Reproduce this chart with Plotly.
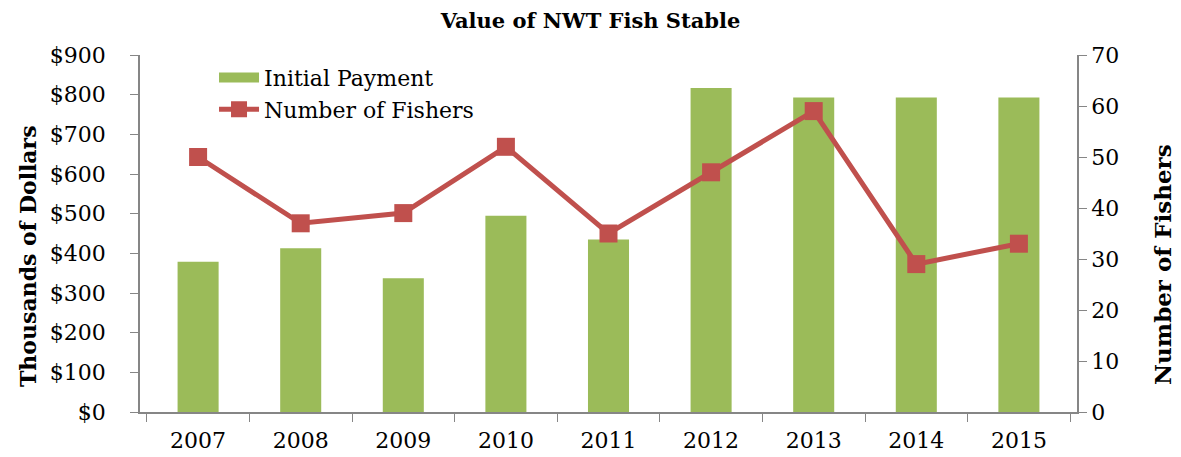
import plotly.graph_objects as go

years = ["2007", "2008", "2009", "2010", "2011", "2012", "2013", "2014", "2015"]
initial_payment = [379, 413, 337, 495, 435, 817, 793, 793, 793]
num_fishers = [50, 37, 39, 52, 35, 47, 59, 29, 33]
left_ticks = [0, 100, 200, 300, 400, 500, 600, 700, 800, 900]
left_labels = ["$" + str(v) for v in left_ticks]
right_ticks = [0, 10, 20, 30, 40, 50, 60, 70]

FONT = "DejaVu Serif"
AXC = "#868686"
GREEN = "#9BBB59"
RED = "#C0504D"

fig = go.Figure()
fig.add_trace(go.Bar(x=years, y=initial_payment, name="Initial Payment",
                     marker=dict(color=GREEN, line=dict(width=0)), showlegend=False))
fig.add_trace(go.Scatter(x=[None], y=[None], name="Initial Payment", mode="lines",
                         line=dict(color=GREEN, width=15), showlegend=True))
fig.add_trace(go.Scatter(x=years, y=num_fishers, name="Number of Fishers", yaxis="y2",
                         mode="lines+markers",
                         line=dict(color=RED, width=5),
                         marker=dict(symbol="square", size=18, color=RED)))

fig.update_layout(
    width=1181, height=457,
    margin=dict(l=140, r=104, t=55, b=45, autoexpand=False),
    paper_bgcolor="white", plot_bgcolor="white",
    font=dict(family=FONT, size=22, color="black"),
    title=dict(text="<b>Value of NWT Fish Stable</b>", x=0.5, xanchor="center",
               y=0.955, yanchor="middle", font=dict(size=21, family=FONT)),
    bargap=0.6,
    showlegend=True,
    legend=dict(x=0.079, y=0.995, xanchor="left", yanchor="top",
                bgcolor="rgba(0,0,0,0)", font=dict(size=22), tracegroupgap=0,
                itemwidth=40),
    xaxis=dict(showline=True, linecolor=AXC, linewidth=1.5, ticks="outside",
               ticklen=8, tickcolor=AXC, showgrid=False, tickson="boundaries",
               tickfont=dict(size=22), ticklabelstandoff=8, automargin=False),
    yaxis=dict(range=[0, 900], tickvals=left_ticks, ticktext=left_labels,
               showline=True, linecolor=AXC, linewidth=1.5, ticks="outside",
               ticklen=8, tickcolor=AXC, showgrid=False, zeroline=False,
               tickfont=dict(size=22), ticklabelstandoff=20, automargin=False),
    yaxis2=dict(range=[0, 70], tickvals=right_ticks, overlaying="y", side="right",
                showline=True, linecolor=AXC, linewidth=1.5, ticks="outside",
                ticklen=8, tickcolor=AXC, showgrid=False, zeroline=False,
                tickfont=dict(size=22), automargin=False),
    annotations=[
        dict(text="<b>Thousands of Dollars</b>", textangle=-90, xref="paper", yref="paper",
             x=-0.1195, y=0.437, xanchor="center", yanchor="middle", showarrow=False,
             font=dict(size=22)),
        dict(text="<b>Number of Fishers</b>", textangle=-90, xref="paper", yref="paper",
             x=1.0918, y=0.412, xanchor="center", yanchor="middle", showarrow=False,
             font=dict(size=23)),
    ],
)

fig.write_html("out.html", config={"displayModeBar": False},
               post_script="document.body.style.margin='0';")
